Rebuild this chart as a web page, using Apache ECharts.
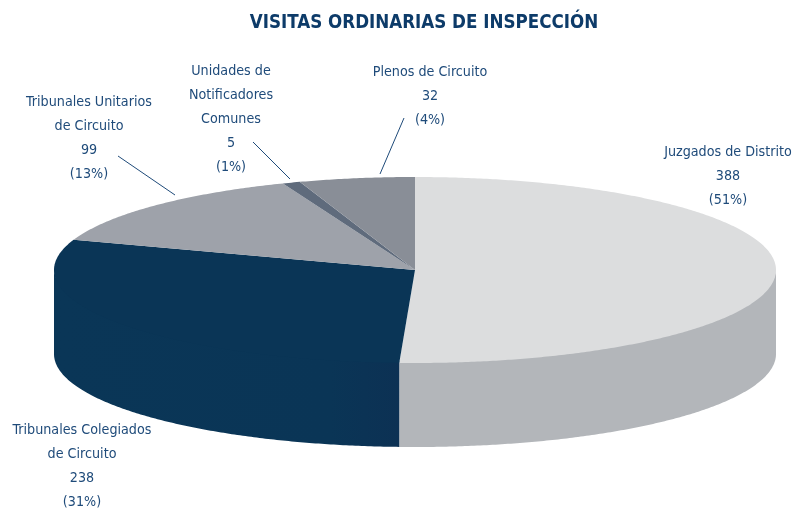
<!DOCTYPE html>
<html>
<head>
<meta charset="utf-8">
<title>Visitas ordinarias de inspección</title>
<script src="https://cdn.jsdelivr.net/npm/echarts@6/dist/echarts.min.js"></script>
<style>
  html, body { margin: 0; padding: 0; background: #fff; }
  #chart { width: 797px; height: 509px; }
</style>
</head>
<body>
<div id="chart"></div>
<script>
var chartTitle = "VISITAS ORDINARIAS DE INSPECCIÓN";
var categories = [
    "Juzgados de Distrito",
    "Tribunales Colegiados\nde Circuito",
    "Tribunales Unitarios\nde Circuito",
    "Unidades de\nNotificadores\nComunes",
    "Plenos de Circuito"
];
var values = [388, 238, 99, 5, 32];
var percents = ["51%", "31%", "13%", "1%", "4%"];

// colours and placement, per slice
var topColors = ["#dcddde", "#0a3556", "#9ea2aa", "#5f6b7c", "#898e97"];
var wallColors = ["#b3b6ba", "#0a3556", "#9ea2aa", "#5f6b7c", "#898e97"];
var labelAt = [[728, 140], [82, 418], [89, 90], [231, 59], [430, 60]];
var leaders = [null, null, [118, 156, 175, 195], [253, 142, 290, 179], [404, 118, 380, 174]];

// the pie as seen in the picture
var cx = 415, cy = 270, rx = 361, ry = 93, depth = 84;
var textColor = "#1f4b7a";

var total = values.reduce((a, b) => a + b, 0);

// the original's perspective squeezes the back of the disc a little
function view(deg) {
    var r = deg * Math.PI / 180;
    return deg + 8 * Math.sin(r) + 2 * Math.sin(3 * r);
}

// start and end angle of slice i, clockwise from 12 o'clock
function sliceAngles(i) {
    var sum = 0;
    for (var k = 0; k < i; k++)
        sum += values[k];
    return [view(sum / total * 360), view((sum + values[i]) / total * 360)];
}

function rimPoint(deg, dy) {
    var r = deg * Math.PI / 180;
    return [cx + rx * Math.sin(r), cy - ry * Math.cos(r) + dy];
}

function arcPoints(a0, a1, dy) {
    var pts = [];
    var n = Math.max(2, Math.ceil(Math.abs(a1 - a0) * 2));
    for (var j = 0; j <= n; j++)
        pts.push(rimPoint(a0 + (a1 - a0) * j / n, dy));
    return pts;
}

function renderTop(params, api) {
    var a = sliceAngles(params.dataIndex);
    var pts = [[cx, cy]].concat(arcPoints(a[0], a[1], 0));
    return {
        type: "polygon",
        shape: { points: pts },
        style: { fill: topColors[params.dataIndex] }
    };
}

// only the front half of the disc shows a side wall
// its upper edge runs 2px under the top so no seam shows
function renderWall(params, api) {
    var a = sliceAngles(params.dataIndex);
    var a0 = Math.max(a[0], 90), a1 = Math.min(a[1], 270);
    if (a1 <= a0)
        return null;
    var pts = arcPoints(a0, a1, -2).concat(arcPoints(a1, a0, depth));
    var fill = wallColors[params.dataIndex];
    if (params.dataIndex == 1) {
        fill = new echarts.graphic.LinearGradient(0, 0, 1, 0, [
            { offset: 0, color: "#0a3657" },
            { offset: 0.8, color: "#0a3556" },
            { offset: 1, color: "#0c3154" }
        ]);
    }
    return {
        type: "polygon",
        shape: { points: pts },
        style: { fill: fill }
    };
}

function renderLabel(params, api) {
    var i = params.dataIndex;
    var children = [{
        type: "text",
        style: {
            text: categories[i] + "\n" + api.value(0) + "\n(" + percents[i] + ")",
            x: labelAt[i][0],
            y: labelAt[i][1],
            align: "center",
            verticalAlign: "top",
            fill: textColor,
            font: "14.2px 'DejaVu Sans Condensed'",
            lineHeight: 24
        }
    }];
    if (leaders[i]) {
        children.push({
            type: "line",
            shape: { x1: leaders[i][0], y1: leaders[i][1], x2: leaders[i][2], y2: leaders[i][3] },
            style: { stroke: textColor, lineWidth: 1 }
        });
    }
    return { type: "group", children: children };
}

var chart = echarts.init(document.getElementById("chart"));
chart.setOption({
    animation: false,
    backgroundColor: "#fff",
    title: {
        text: chartTitle,
        left: 424,
        top: 9,
        textAlign: "center",
        textStyle: {
            color: "#0d3b69",
            fontFamily: "DejaVu Sans Condensed",
            fontWeight: "bold",
            fontSize: 18.6
        }
    },
    series: [
        { type: "custom", name: "lados", coordinateSystem: "none", z: 1, silent: true, renderItem: renderWall, data: values },
        { type: "custom", name: "tapa", coordinateSystem: "none", z: 2, silent: true, renderItem: renderTop, data: values },
        { type: "custom", name: "etiquetas", coordinateSystem: "none", z: 3, silent: true, renderItem: renderLabel, data: values }
    ]
});
chart.setOption({ title: { left: 419 } });
</script>
</body>
</html>
